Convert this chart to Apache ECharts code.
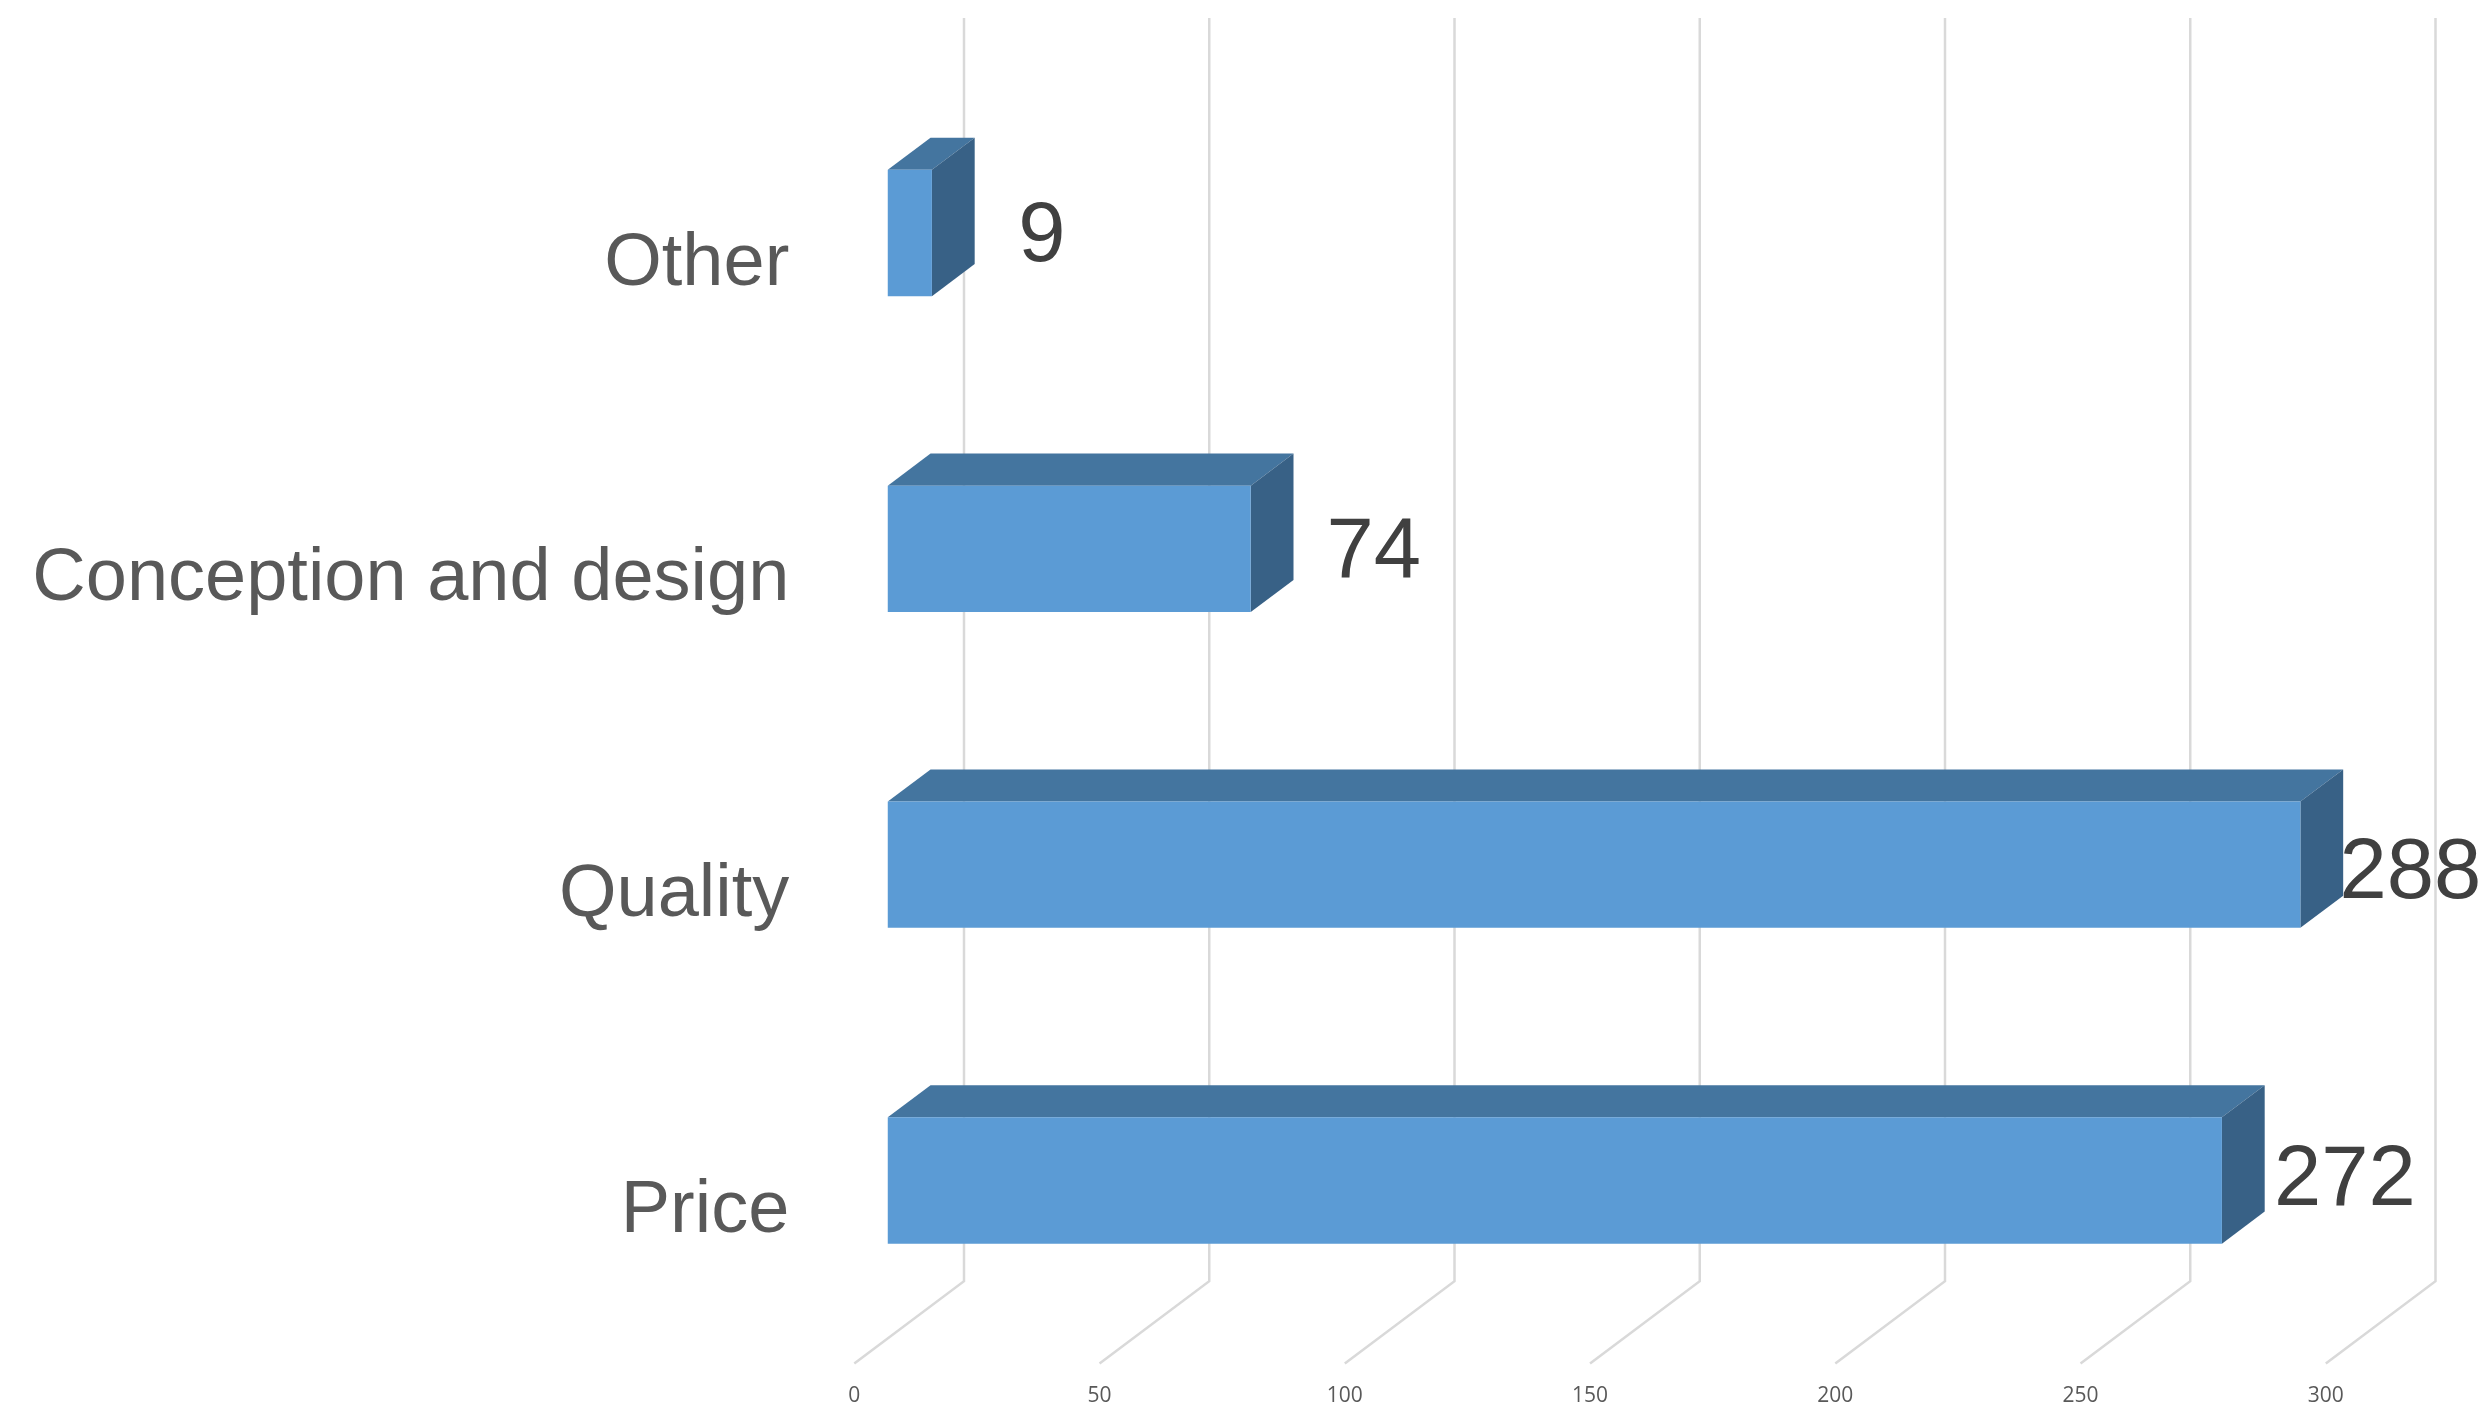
<!DOCTYPE html>
<html>
<head>
<meta charset="utf-8">
<title>Purchase criteria</title>
<script src="https://cdn.jsdelivr.net/npm/echarts@6/dist/echarts.min.js"></script>
<style>
  html, body { margin: 0; padding: 0; background: #ffffff; }
  #chart { width: 2491px; height: 1405px; }
</style>
</head>
<body>
<div id="chart"></div>
<script>
// Categories listed from the bottom of the chart to the top
const categories = ['Price', 'Quality', 'Conception and design', 'Other'];
const counts = [272, 288, 74, 9];
const tickValues = [0, 50, 100, 150, 200, 250, 300];

// Oblique depth of the 3D frame (front plane -> back wall), in pixels
const DEPTH_X = 109.7;
const DEPTH_Y = -82.3;
// Bars sit in the middle of the depth
const BAR_T1 = 0.305;
const BAR_T2 = 0.695;
const BAR_HEIGHT_RATIO = 0.4;

// Value-label placement beside each bar end (per row, bottom to top)
const LABEL_GAP = [123, 110, 123, 110];
const LABEL_DY = [1, 10, 5, 5];

const FRONT_COLOR = '#5B9BD5';
const TOP_COLOR = '#44759F';
const SIDE_COLOR = '#386186';
const GRID_COLOR = '#D9D9D9';

const chart = echarts.init(document.getElementById('chart'), null, { renderer: 'canvas' });

function renderGridLine(params, api) {
  const cs = params.coordSys;
  const v = api.value(0);
  const x = api.coord([v, 0])[0];
  const bottom = cs.y + cs.height;
  const top = cs.y;
  return {
    type: 'polyline',
    shape: { points: [[x, bottom], [x + DEPTH_X, bottom + DEPTH_Y], [x + DEPTH_X, top + DEPTH_Y]] },
    style: { stroke: GRID_COLOR, lineWidth: 2.5, fill: null },
    silent: true
  };
}

function renderBar(params, api) {
  const v = api.value(0);
  const cat = api.value(1);
  const start = api.coord([0, cat]);
  const end = api.coord([v, cat]);
  const band = api.size([0, 1])[1];
  const h = band * BAR_HEIGHT_RATIO;

  const fx0 = start[0] + BAR_T1 * DEPTH_X;
  const fx1 = end[0] + BAR_T1 * DEPTH_X;
  const fyTop = end[1] - h / 2 + BAR_T1 * DEPTH_Y;
  const fyBot = end[1] + h / 2 + BAR_T1 * DEPTH_Y;
  const ddx = (BAR_T2 - BAR_T1) * DEPTH_X;
  const ddy = (BAR_T2 - BAR_T1) * DEPTH_Y;
  const idx = params.dataIndex;

  return {
    type: 'group',
    children: [
      {
        type: 'polygon',
        shape: { points: [[fx0, fyTop], [fx1, fyTop], [fx1 + ddx, fyTop + ddy], [fx0 + ddx, fyTop + ddy]] },
        style: { fill: TOP_COLOR }
      },
      {
        type: 'polygon',
        shape: { points: [[fx1, fyTop], [fx1 + ddx, fyTop + ddy], [fx1 + ddx, fyBot + ddy], [fx1, fyBot]] },
        style: { fill: SIDE_COLOR }
      },
      {
        type: 'rect',
        shape: { x: fx0, y: fyTop, width: fx1 - fx0, height: fyBot - fyTop },
        style: { fill: FRONT_COLOR }
      },
      {
        type: 'text',
        x: fx1 + LABEL_GAP[idx],
        y: (fyTop + fyBot) / 2 + LABEL_DY[idx],
        style: {
          text: String(v),
          fill: '#404040',
          fontSize: 85,
          fontFamily: '"Liberation Sans", Arial, sans-serif',
          align: 'center',
          verticalAlign: 'middle'
        }
      }
    ]
  };
}

const option = {
  backgroundColor: '#ffffff',
  animation: false,
  grid: {
    left: 854.3,
    right: 165.2,
    top: 100.2,
    bottom: 41.5,
    containLabel: false,
    outerBoundsMode: 'none'
  },
  xAxis: {
    type: 'value',
    min: 0,
    max: 300,
    interval: 50,
    axisLine: { show: false },
    axisTick: { show: false },
    splitLine: { show: false },
    axisLabel: {
      margin: 22,
      fontSize: 21,
      fontFamily: '"Open Sans", sans-serif',
      color: '#595959',
      customValues: tickValues
    }
  },
  yAxis: {
    type: 'category',
    data: categories,
    axisLine: { show: false },
    axisTick: { show: false },
    splitLine: { show: false },
    axisLabel: {
      margin: 65,
      formatter: '{cat|{value}}',
      rich: {
        cat: {
          fontSize: 74,
          lineHeight: 84,
          padding: [12, 0, 0, 0],
          fontFamily: '"Liberation Sans", Arial, sans-serif',
          color: '#595959'
        }
      }
    }
  },
  series: [
    {
      type: 'custom',
      name: 'grid',
      renderItem: renderGridLine,
      data: tickValues.map(t => [t, 0]),
      encode: { x: 0, y: 1 },
      z: 1,
      silent: true
    },
    {
      type: 'custom',
      name: 'Responses',
      renderItem: renderBar,
      data: counts.map((c, i) => [c, i]),
      encode: { x: 0, y: 1 },
      z: 5
    }
  ]
};

chart.setOption(option);
</script>
</body>
</html>
